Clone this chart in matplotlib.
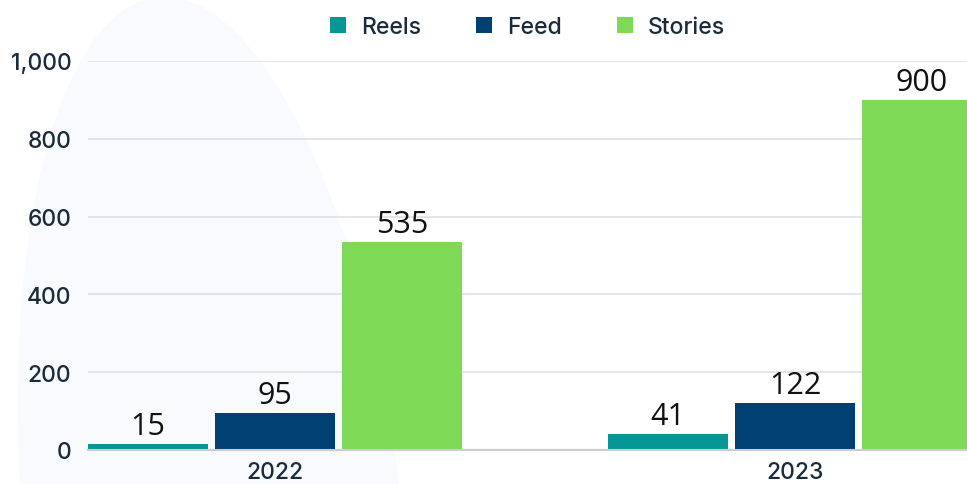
import matplotlib
matplotlib.use("Agg")
import matplotlib.pyplot as plt
import matplotlib.transforms as mtransforms
from matplotlib.patches import Ellipse
from matplotlib.ticker import FuncFormatter
import numpy as np

years = ["2022", "2023"]
series = ["Reels", "Feed", "Stories"]
reels = [15, 41]
feed = [95, 122]
stories = [535, 900]
colors = ["#069696", "#003f72", "#7ed957"]

TICK_FONT = "Inter"
LABEL_FONT = "Open Sans"
TEXT_COLOR = "#1b2b3c"

fig = plt.figure(figsize=(9.67, 4.85), dpi=100)

# faint background blob behind the plot
blob = Ellipse((215, -60), 380, 1100, angle=6, facecolor="#f9fafd",
               edgecolor="none", transform=mtransforms.IdentityTransform(), zorder=-5)
fig.patches.append(blob)

ax = fig.add_axes([88 / 967, 34 / 485, 879 / 967, 389 / 485])
ax.set_facecolor("none")
ax.set_zorder(1)

x = np.arange(len(years))
width = 0.231
step = 0.244
for i, (name, vals) in enumerate(zip(series, [reels, feed, stories])):
    pos = x + (i - 1) * step
    ax.bar(pos, vals, width, color=colors[i], label=name, zorder=3)
    for p, v in zip(pos, vals):
        ax.annotate(f"{v}", xy=(p, v), xytext=(0, 7), textcoords="offset points",
                    ha="center", va="baseline", fontsize=22, family=LABEL_FONT,
                    color="#111111", annotation_clip=False, zorder=4)

ax.set_xlim((88 - 275) / 520, (967 - 275) / 520)
ax.set_ylim(0, 1000)
ax.set_yticks(range(0, 1001, 200))
ax.yaxis.set_major_formatter(FuncFormatter(lambda v, _: f"{int(v):,}"))
ax.set_xticks(x)
ax.set_xticklabels(years)

ax.grid(axis="y", color="#dde1e6", linewidth=1.2, zorder=0)
for s in ["top", "right", "left"]:
    ax.spines[s].set_visible(False)
ax.spines["bottom"].set_color("#c9ced4")
ax.spines["bottom"].set_linewidth(1.5)
ax.spines["bottom"].set_zorder(5)

ax.tick_params(axis="both", length=0, labelsize=16.5, labelcolor=TEXT_COLOR)
ax.tick_params(axis="y", pad=12)
ax.tick_params(axis="x", pad=8)
for lab in ax.get_xticklabels() + ax.get_yticklabels():
    lab.set_family(TICK_FONT)
    lab.set_fontweight("medium")

leg = ax.legend(loc="center", bbox_to_anchor=(0.5, 1 + 34 / 389), ncol=3, frameon=False,
                handlelength=0.7, handleheight=0.7, handletextpad=0.65, columnspacing=2.4,
                prop={"family": TICK_FONT, "size": 16.5, "weight": "medium"})
for t in leg.get_texts():
    t.set_color(TEXT_COLOR)

fig.savefig("out.png", dpi=100)
